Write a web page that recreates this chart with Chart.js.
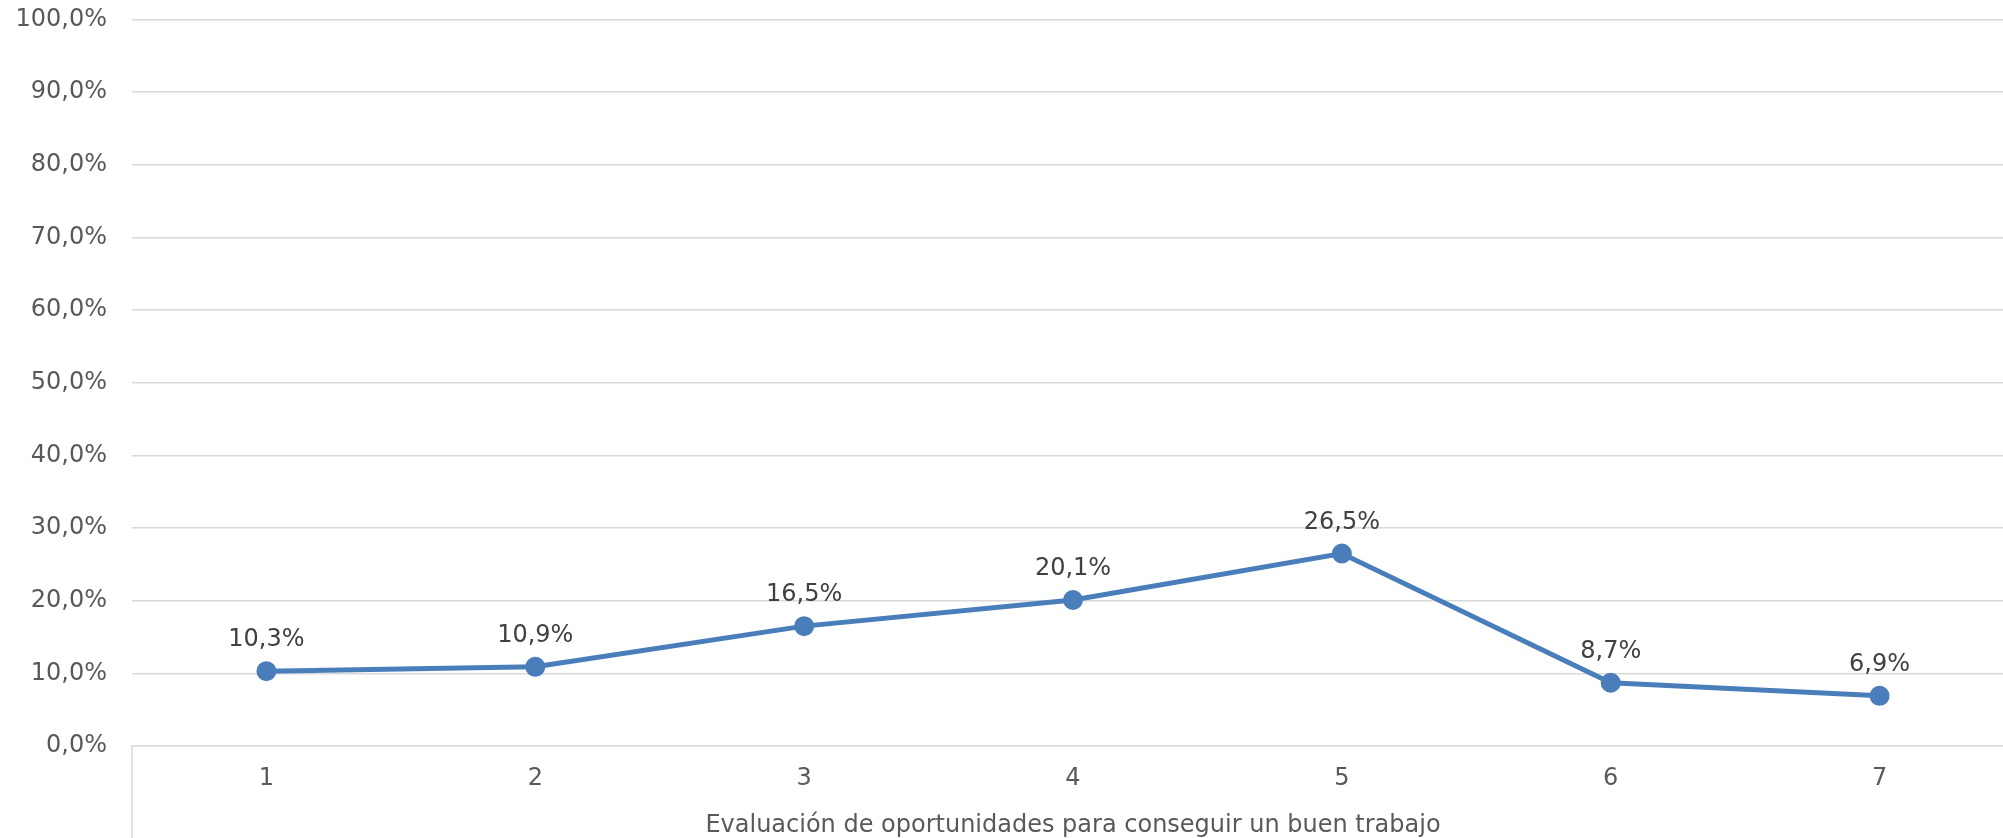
<!DOCTYPE html>
<html>
<head>
<meta charset="utf-8">
<script src="https://cdn.jsdelivr.net/npm/chart.js@4"></script>
<style>
  html, body { margin: 0; padding: 0; background: #fff; overflow: hidden; }
  /* plot area runs slightly past the right edge of the window, as in the source */
  #wrap { width: 2014px; height: 838px; position: relative; }
</style>
</head>
<body>
<div id="wrap"><canvas id="lineChart"></canvas></div>
<script>
// Chart data
const categories = ['1', '2', '3', '4', '5', '6', '7'];
const values = [10.3, 10.9, 16.5, 20.1, 26.5, 8.7, 6.9];
const axisTitle = 'Evaluación de oportunidades para conseguir un buen trabajo';

const fmtPct = (v) => v.toFixed(1).replace('.', ',') + '%';

// Draws the value above each point
const pointLabels = {
    id: 'pointLabels',
    afterDatasetsDraw(chart) {
        const ctx = chart.ctx;
        const meta = chart.getDatasetMeta(0);
        ctx.save();
        ctx.font = '24px "DejaVu Sans"';
        ctx.fillStyle = '#404040';
        ctx.textAlign = 'center';
        ctx.textBaseline = 'middle';
        meta.data.forEach((pt, i) => {
            ctx.fillText(fmtPct(values[i]), pt.x, pt.y - 31);
        });
        ctx.restore();
    }
};

// Left border of the category axis, running down to the bottom
const axisEdge = {
    id: 'axisEdge',
    afterDraw(chart) {
        const { ctx, chartArea } = chart;
        ctx.save();
        ctx.strokeStyle = '#d9d9d9';
        ctx.lineWidth = 1.5;
        ctx.beginPath();
        ctx.moveTo(chartArea.left, chartArea.bottom);
        ctx.lineTo(chartArea.left, chart.height);
        ctx.stroke();
        ctx.restore();
    }
};

new Chart(document.getElementById('lineChart'), {
    type: 'line',
    data: {
        labels: categories,
        datasets: [{
            data: values,
            borderColor: '#4a7ebb',
            backgroundColor: '#4a7ebb',
            borderWidth: 5,
            pointRadius: 7.5,
            pointHoverRadius: 7.5,
            tension: 0
        }]
    },
    options: {
        responsive: true,
        maintainAspectRatio: false,
        animation: false,
        layout: {
            autoPadding: false,
            padding: { left: 0, right: 0, top: 19.5, bottom: 0 }
        },
        plugins: {
            legend: { display: false },
            tooltip: { enabled: false }
        },
        scales: {
            y: {
                min: 0,
                max: 100,
                afterFit: (scale) => {
                    scale.width = 132;
                    scale.paddingTop = 0;
                    scale.paddingBottom = 0;
                },
                ticks: {
                    stepSize: 10,
                    padding: 25,
                    color: '#595959',
                    font: { family: 'DejaVu Sans', size: 24 },
                    callback: (v) => fmtPct(v)
                },
                grid: {
                    color: '#d9d9d9',
                    lineWidth: 1.5,
                    drawTicks: false
                },
                border: { display: false }
            },
            x: {
                offset: true,
                afterFit: (scale) => {
                    scale.height = 92;
                    scale.paddingLeft = 0;
                    scale.paddingRight = 0;
                },
                ticks: {
                    padding: 18,
                    color: '#595959',
                    font: { family: 'DejaVu Sans', size: 24 },
                    maxRotation: 0
                },
                grid: { display: false, drawTicks: false },
                border: { display: true, color: '#d9d9d9', width: 1.5 },
                title: {
                    display: true,
                    text: axisTitle,
                    color: '#595959',
                    font: { family: 'DejaVu Sans', size: 24 },
                    padding: { top: 0, bottom: -2 }
                }
            }
        }
    },
    plugins: [pointLabels, axisEdge]
});
</script>
</body>
</html>
